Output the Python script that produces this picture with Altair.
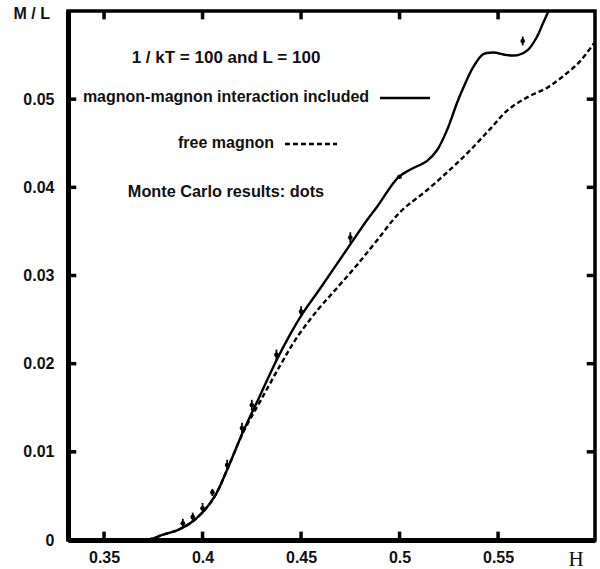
import altair as alt
import pandas as pd

# ---- axis ranges / ticks ----
X_MIN, X_MAX = 0.3317, 0.5992
Y_MIN, Y_MAX = 0.0, 0.06
x_ticks = [0.35, 0.40, 0.45, 0.50, 0.55]
y_ticks = [0.0, 0.01, 0.02, 0.03, 0.04, 0.05]

# ---- magnon-magnon interaction included (solid) ----
inter_h = [0.3317, 0.3600, 0.3683, 0.3734, 0.3799, 0.3871, 0.3937, 0.4003, 0.4063,
           0.4129, 0.4206, 0.4292, 0.4378, 0.4444, 0.4505, 0.4596, 0.4749, 0.4835,
           0.4886, 0.4992, 0.5053, 0.5140, 0.5190, 0.5241, 0.5292, 0.5322, 0.5373,
           0.5424, 0.5475, 0.5546, 0.5602, 0.5652, 0.5698, 0.5728, 0.5754, 0.5779]
inter_m = [0.0, 0.0, 0.00005, 0.0001, 0.0006, 0.0011, 0.0019, 0.0032, 0.0050,
           0.0082, 0.0123, 0.0164, 0.0205, 0.0233, 0.0256, 0.0285, 0.0335, 0.0363,
           0.0378, 0.0411, 0.0420, 0.0430, 0.0442, 0.0465, 0.0496, 0.0512, 0.0536,
           0.0551, 0.0553, 0.0550, 0.0550, 0.0556, 0.0571, 0.0586, 0.0599, 0.0612]

# ---- free magnon (dashed) ----
free_h = [0.3317, 0.3600, 0.3683, 0.3734, 0.3799, 0.3871, 0.3937, 0.4003, 0.4063,
          0.4129, 0.4206, 0.4292, 0.4394, 0.4480, 0.4581, 0.4683, 0.4784, 0.4886,
          0.5003, 0.5140, 0.5256, 0.5358, 0.5459, 0.5546, 0.5647, 0.5749, 0.5830,
          0.5916, 0.5992]
free_m = [0.0, 0.0, 0.00005, 0.0001, 0.0006, 0.0011, 0.0019, 0.0032, 0.0050,
          0.0082, 0.0122, 0.0157, 0.0198, 0.0230, 0.0260, 0.0286, 0.0312, 0.0340,
          0.0372, 0.0397, 0.0420, 0.0442, 0.0466, 0.0487, 0.0502, 0.0513, 0.0526,
          0.0543, 0.0565]

# ---- Monte Carlo results ----
mc_h = [0.39, 0.395, 0.40, 0.405, 0.4125, 0.42, 0.425, 0.4375, 0.45, 0.475, 0.50, 0.5625]
mc_m = [0.0019, 0.0026, 0.0036, 0.0054, 0.0085, 0.0127, 0.0153, 0.0210, 0.0259, 0.0343, 0.0412, 0.0566]
mc_err = [0.0005, 0.0005, 0.0006, 0.0004, 0.0006, 0.0006, 0.0006, 0.0006, 0.0006, 0.0006, 0.0002, 0.0005]

# ---- annotation texts ----
ann_texts = ["1 / kT = 100 and L = 100",
             "magnon-magnon interaction included",
             "free magnon",
             "Monte Carlo results: dots"]
ann_sizes = [17, 16, 16, 16.3]

FONT = "Liberation Sans"
INK = "#111111"

xs = alt.Scale(domain=[X_MIN, X_MAX], nice=False, zero=False)
ys = alt.Scale(domain=[Y_MIN, Y_MAX], nice=False, zero=False)

x_axis = alt.Axis(values=x_ticks, format="~g", title="H", grid=False, ticks=False, tickSize=0,
                  labelPadding=9, domainWidth=5, domainColor="black",
                  titleFont="Liberation Serif", titleFontSize=21, titleFontWeight="normal",
                  titleAlign="left", titleBaseline="alphabetic", titleX=500, titleY=25,
                  titleColor=INK)
y_axis = alt.Axis(values=y_ticks, format="~g", title="M / L", grid=False, ticks=False, tickSize=0,
                  labelPadding=14, domainWidth=5, domainColor="black",
                  titleAngle=0, titleAlign="left", titleBaseline="alphabetic",
                  titleX=-55, titleY=7, titleFont=FONT, titleFontSize=16,
                  titleFontWeight="bold", titleColor=INK)

inter_df = pd.DataFrame({"H": inter_h, "M": inter_m})
free_df = pd.DataFrame({"H": free_h, "M": free_m})
mc_df = pd.DataFrame({"H": mc_h, "M": mc_m, "err": mc_err})
mc_df["lo"] = mc_df["M"] - mc_df["err"]
mc_df["hi"] = mc_df["M"] + mc_df["err"]

solid = alt.Chart(inter_df).mark_line(color="black", strokeWidth=2.4, clip=True,
                                      interpolate="catmull-rom").encode(
    x=alt.X("H:Q", scale=xs, axis=x_axis),
    y=alt.Y("M:Q", scale=ys, axis=y_axis),
)

dashed = alt.Chart(free_df).mark_line(color="black", strokeWidth=2.4, clip=True,
                                      strokeDash=[5, 3], interpolate="catmull-rom").encode(
    x=alt.X("H:Q", scale=xs),
    y=alt.Y("M:Q", scale=ys),
)

bars = alt.Chart(mc_df).mark_rule(color="black", strokeWidth=1.8).encode(
    x=alt.X("H:Q", scale=xs),
    y=alt.Y("lo:Q", scale=ys),
    y2="hi:Q",
)
dots = alt.Chart(mc_df).mark_point(color="black", filled=True, size=22, opacity=1).encode(
    x=alt.X("H:Q", scale=xs),
    y=alt.Y("M:Q", scale=ys),
)

# inward tick marks on all four sides
tlx = 0.0042
tly = 0.00095
xt = pd.DataFrame({"H": x_ticks, "b0": Y_MIN, "b1": Y_MIN + tly, "t0": Y_MAX, "t1": Y_MAX - tly})
yt = pd.DataFrame({"M": y_ticks, "l0": X_MIN, "l1": X_MIN + tlx, "r0": X_MAX, "r1": X_MAX - tlx})
tick_bottom = alt.Chart(xt).mark_rule(color="black", strokeWidth=3.5).encode(
    x=alt.X("H:Q", scale=xs), y=alt.Y("b0:Q", scale=ys), y2="b1:Q")
tick_top = alt.Chart(xt).mark_rule(color="black", strokeWidth=3.5).encode(
    x=alt.X("H:Q", scale=xs), y=alt.Y("t0:Q", scale=ys), y2="t1:Q")
tick_left = alt.Chart(yt).mark_rule(color="black", strokeWidth=3.5).encode(
    y=alt.Y("M:Q", scale=ys), x=alt.X("l0:Q", scale=xs), x2="l1:Q")
tick_right = alt.Chart(yt).mark_rule(color="black", strokeWidth=3.5).encode(
    y=alt.Y("M:Q", scale=ys), x=alt.X("r0:Q", scale=xs), x2="r1:Q")

# annotation block (key inside the plot)
ann_y = [52, 91, 137, 186]
texts = []
for t, yy, fs in zip(ann_texts, ann_y, ann_sizes):
    texts.append(
        alt.Chart(pd.DataFrame({"label": [t]})).mark_text(
            font=FONT, fontSize=fs, fontWeight="bold", color=INK,
            align="center", baseline="alphabetic"
        ).encode(x=alt.value(158), y=alt.value(yy), text="label:N")
    )

key_solid = alt.Chart(pd.DataFrame({"k": [1]})).mark_rule(color="black", strokeWidth=2.4).encode(
    x=alt.value(312), x2=alt.value(362), y=alt.value(87))
key_dash = alt.Chart(pd.DataFrame({"k": [1]})).mark_rule(color="black", strokeWidth=2.4,
                                                         strokeDash=[5, 3]).encode(
    x=alt.value(217), x2=alt.value(269), y=alt.value(133))

chart = alt.layer(
    solid, dashed, bars, dots,
    tick_bottom, tick_top, tick_left, tick_right,
    *texts, key_solid, key_dash,
).properties(
    width=527, height=529,
    autosize=alt.AutoSizeParams(type="none"),
    padding={"left": 68, "top": 11, "right": 5, "bottom": 29},
    background="white",
).configure_view(
    stroke="black", strokeWidth=3.5, fill=None
).configure_axis(
    labelFont=FONT, labelFontSize=16, labelFontWeight="bold", labelColor=INK,
)

chart.save("out.html", embed_options={"renderer": "svg", "actions": False})
